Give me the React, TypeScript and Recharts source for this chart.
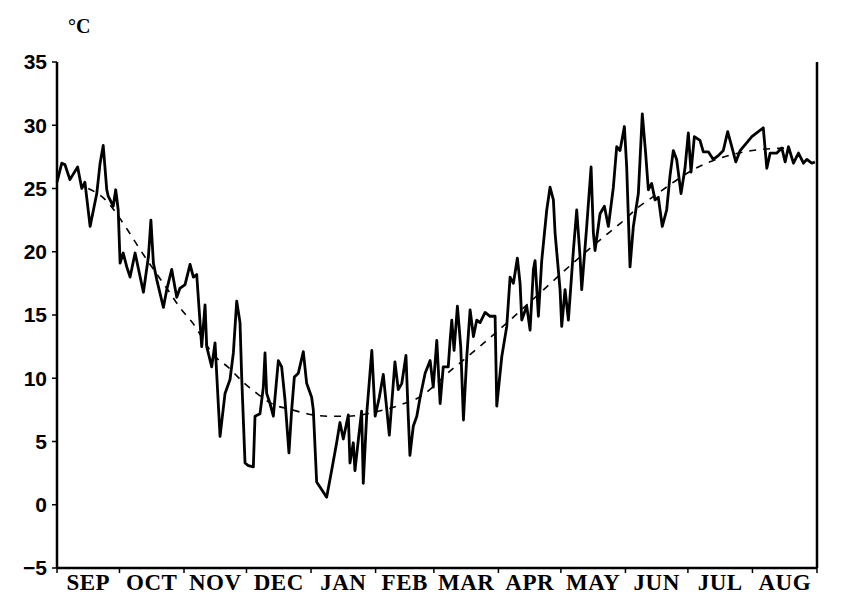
import { Line, LineChart, XAxis, YAxis } from 'recharts'

// daily temperature, day 0 = 1 Sep
const days = [
  0, 2.3, 3.8, 6.2, 9.9, 11.9, 13.4, 15.9, 19.1, 20.7, 22.2, 23.9, 24.6, 27.0, 28.2, 29.4, 30.3, 31.8, 33.5, 35.1,
  37.5, 41.5, 43.9, 45.1, 46.3, 47.9, 51.1, 52.7, 55.1, 57.5, 59.0, 61.5, 63.9, 65.5, 67.1, 69.5, 71.1, 71.9, 74.3, 75.9,
  78.3, 80.7, 83.1, 84.7, 86.3, 87.9, 88.7, 90.3, 91.9, 94.3, 95.1, 97.5, 99.1, 99.9, 100.7, 102.3, 103.9, 106.3, 107.9, 109.5,
  111.4, 112.7, 114.0, 115.9, 118.3, 119.9, 122.3, 123.1, 124.7, 126.3, 129.5, 131.9, 134.3, 135.9, 137.5, 139.9, 140.7, 142.3, 143.1, 144.7,
  146.3, 147.1, 148.8, 151.2, 152.8, 154.8, 156.7, 158.4, 159.6, 162.3, 163.9, 165.6, 167.6, 168.7, 169.5, 171.1, 172.8, 174.4, 176.8, 179.2,
  180.7, 182.4, 184.0, 185.5, 187.9, 188.8, 189.6, 190.7, 192.3, 193.9, 195.2, 196.8, 198.4, 200.0, 201.6, 203.2, 205.6, 208.0, 210.4, 211.2,
  213.6, 216.0, 217.6, 219.2, 221.1, 222.4, 223.2, 225.6, 227.2, 228.8, 229.6, 231.2, 232.8, 235.2, 236.8, 238.4, 239.2, 241.6, 242.4, 244.0,
  245.6, 248.0, 249.6, 251.2, 252.0, 254.4, 256.5, 257.6, 258.4, 260.8, 262.9, 264.8, 267.2, 268.8, 270.4, 272.5, 273.6, 275.2, 276.8, 279.2,
  281.1, 282.7, 284.0, 285.6, 287.2, 288.8, 290.7, 292.8, 294.4, 296.0, 297.6, 299.7, 301.6, 303.2, 304.5, 306.1, 308.8, 310.4, 312.8, 315.2,
  317.6, 320.0, 322.1, 324.1, 326.0, 328.1, 333.7, 339.2, 340.9, 342.5, 345.7, 348.1, 349.7, 351.3, 353.7, 356.1, 358.5, 360.1, 362.5, 364
]
const dailyTemp = [
  25.5, 27.0, 26.9, 25.7, 26.7, 25.0, 25.5, 22.0, 24.6, 27.0, 28.4, 24.9, 24.4, 23.6, 24.9, 23.3, 19.1, 19.9, 18.8, 18.0,
  19.9, 16.8, 19.6, 22.5, 19.1, 17.8, 15.6, 17.0, 18.6, 16.4, 17.1, 17.4, 19.0, 18.0, 18.2, 12.5, 15.8, 12.5, 10.9, 12.8,
  5.4, 8.8, 9.9, 12.0, 16.1, 14.4, 10.1, 3.3, 3.1, 3.0, 7.0, 7.2, 9.3, 12.0, 8.8, 8.0, 7.0, 11.4, 10.9, 8.3,
  4.1, 7.5, 10.1, 10.4, 12.1, 9.6, 8.5, 7.5, 1.8, 1.4, 0.6, 2.7, 4.9, 6.5, 5.2, 7.1, 3.3, 4.9, 2.7, 5.1,
  7.4, 1.7, 7.3, 12.2, 7.0, 8.5, 10.3, 7.5, 5.5, 11.3, 9.1, 9.6, 11.8, 7.0, 3.9, 6.2, 7.0, 8.5, 10.4, 11.4,
  9.3, 13.0, 8.0, 10.9, 10.9, 13.0, 14.6, 12.2, 15.7, 12.5, 6.7, 11.7, 15.4, 13.3, 14.6, 14.4, 15.2, 14.9, 14.9, 7.8,
  11.7, 14.1, 18.0, 17.5, 19.5, 17.5, 14.6, 15.7, 13.8, 18.6, 19.3, 14.9, 19.3, 23.3, 25.1, 24.1, 21.5, 17.0, 14.1, 17.0,
  14.6, 20.1, 23.3, 19.6, 17.0, 22.0, 26.7, 21.5, 20.1, 23.0, 23.6, 22.0, 25.1, 28.3, 28.0, 29.9, 26.7, 18.8, 22.0, 24.6,
  30.9, 27.8, 24.9, 25.4, 24.1, 24.3, 22.0, 23.3, 26.0, 28.0, 27.3, 24.6, 26.6, 29.4, 26.3, 29.1, 28.8, 27.9, 27.9, 27.3,
  27.6, 28.0, 29.5, 28.3, 27.1, 28.0, 29.1, 29.8, 26.6, 27.8, 27.8, 28.2, 27.1, 28.3, 27.0, 27.8, 27.0, 27.3, 27.0, 27.1
]

// smoothed climatology (dashed)
const climDays = [15, 22, 34, 39, 54, 59, 65, 76, 82, 90, 96, 103, 113, 120, 130, 140, 152, 165, 174, 189, 203, 237, 243, 265, 271, 279, 285, 308, 334, 350]
const climTemp = [25.0, 24.3, 21.7, 20.4, 16.8, 15.6, 14.4, 11.7, 10.9, 9.6, 8.8, 8.0, 7.5, 7.2, 7.0, 7.0, 7.3, 7.9, 8.5, 10.6, 12.5, 17.5, 18.4, 21.5, 22.3, 23.5, 24.2, 26.7, 28.0, 28.2]

const monthStarts = [0, 30, 61, 91, 122, 153, 181, 212, 242, 273, 303, 334, 365]
const monthLabels = ['SEP', 'OCT', 'NOV', 'DEC', 'JAN', 'FEB', 'MAR', 'APR', 'MAY', 'JUN', 'JUL', 'AUG']
const tempTicks = [-5, 0, 5, 10, 15, 20, 25, 30, 35]

const daily = days.map((d, i) => ({ day: d, t: dailyTemp[i] }))
const clim = climDays.map((d, i) => ({ day: d, c: climTemp[i] }))

const PX_PER_DAY = 760 / 365
const numFont = '"Liberation Sans", Arial, sans-serif'
const monFont = '"Liberation Serif", "Times New Roman", serif'

const fmt = (v: number) => (v < 0 ? '\u2212' + Math.abs(v) : String(v))

// month name sits in the middle of its month, not on the boundary tick
function MonthTick({ x, y, payload }: any) {
  const i = monthStarts.indexOf(payload.value)
  if (i < 0 || i >= 12) return null
  const mid = (monthStarts[i] + monthStarts[i + 1]) / 2
  const dx = (mid - payload.value) * PX_PER_DAY
  return (
    <text
      x={x + dx}
      y={y + 15}
      textAnchor="middle"
      fontFamily={monFont}
      fontWeight="bold"
      fontSize={23}
      letterSpacing={0.5}
      fill="#000"
    >
      {monthLabels[i]}
    </text>
  )
}

export default function App() {
  return (
    <div style={{ position: 'absolute', left: 0, top: 0, width: 864, height: 610, background: '#fff' }}>
      <LineChart width={864} height={610} data={daily} margin={{ top: 62, right: 7, bottom: 12, left: 7 }}>
        <text x={68} y={33} fontFamily={monFont} fontWeight="bold" fontSize={20} fill="#000">°C</text>
        <XAxis
          xAxisId="top"
          orientation="top"
          dataKey="day"
          type="number"
          domain={[0, 365]}
          height={0}
          tick={false}
          tickLine={false}
          axisLine={{ stroke: '#333', strokeWidth: 1.5 }}
        />
        <XAxis
          dataKey="day"
          type="number"
          domain={[0, 365]}
          ticks={monthStarts}
          interval={0}
          height={30}
          tick={<MonthTick />}
          tickSize={5}
          axisLine={{ stroke: '#000', strokeWidth: 2.5 }}
          tickLine={{ stroke: '#000', strokeWidth: 1.5 }}
        />
        <YAxis
          yAxisId="left"
          domain={[-5, 35]}
          ticks={tempTicks}
          interval={0}
          width={50}
          tickSize={5}
          tickMargin={5}
          tickFormatter={fmt}
          tick={{ fill: '#000', fontSize: 21, fontWeight: 'bold', fontFamily: numFont }}
          axisLine={{ stroke: '#000', strokeWidth: 2.5 }}
          tickLine={{ stroke: '#000', strokeWidth: 1.5 }}
        />
        <YAxis
          yAxisId="right"
          orientation="right"
          domain={[-5, 35]}
          ticks={tempTicks}
          interval={0}
          width={40}
          tickSize={5}
          tickFormatter={fmt}
          tick={{ fill: '#000', fontSize: 21, fontWeight: 'bold', fontFamily: numFont }}
          axisLine={{ stroke: '#000', strokeWidth: 2.5 }}
          tickLine={{ stroke: '#000', strokeWidth: 1.5 }}
        />
        <Line
          yAxisId="left"
          data={clim}
          dataKey="c"
          type="monotone"
          stroke="#000"
          strokeWidth={1.6}
          strokeDasharray="7 7"
          dot={false}
          isAnimationActive={false}
        />
        <Line
          yAxisId="left"
          dataKey="t"
          type="linear"
          stroke="#000"
          strokeWidth={2.8}
          strokeLinejoin="round"
          dot={false}
          isAnimationActive={false}
        />
      </LineChart>
    </div>
  )
}
